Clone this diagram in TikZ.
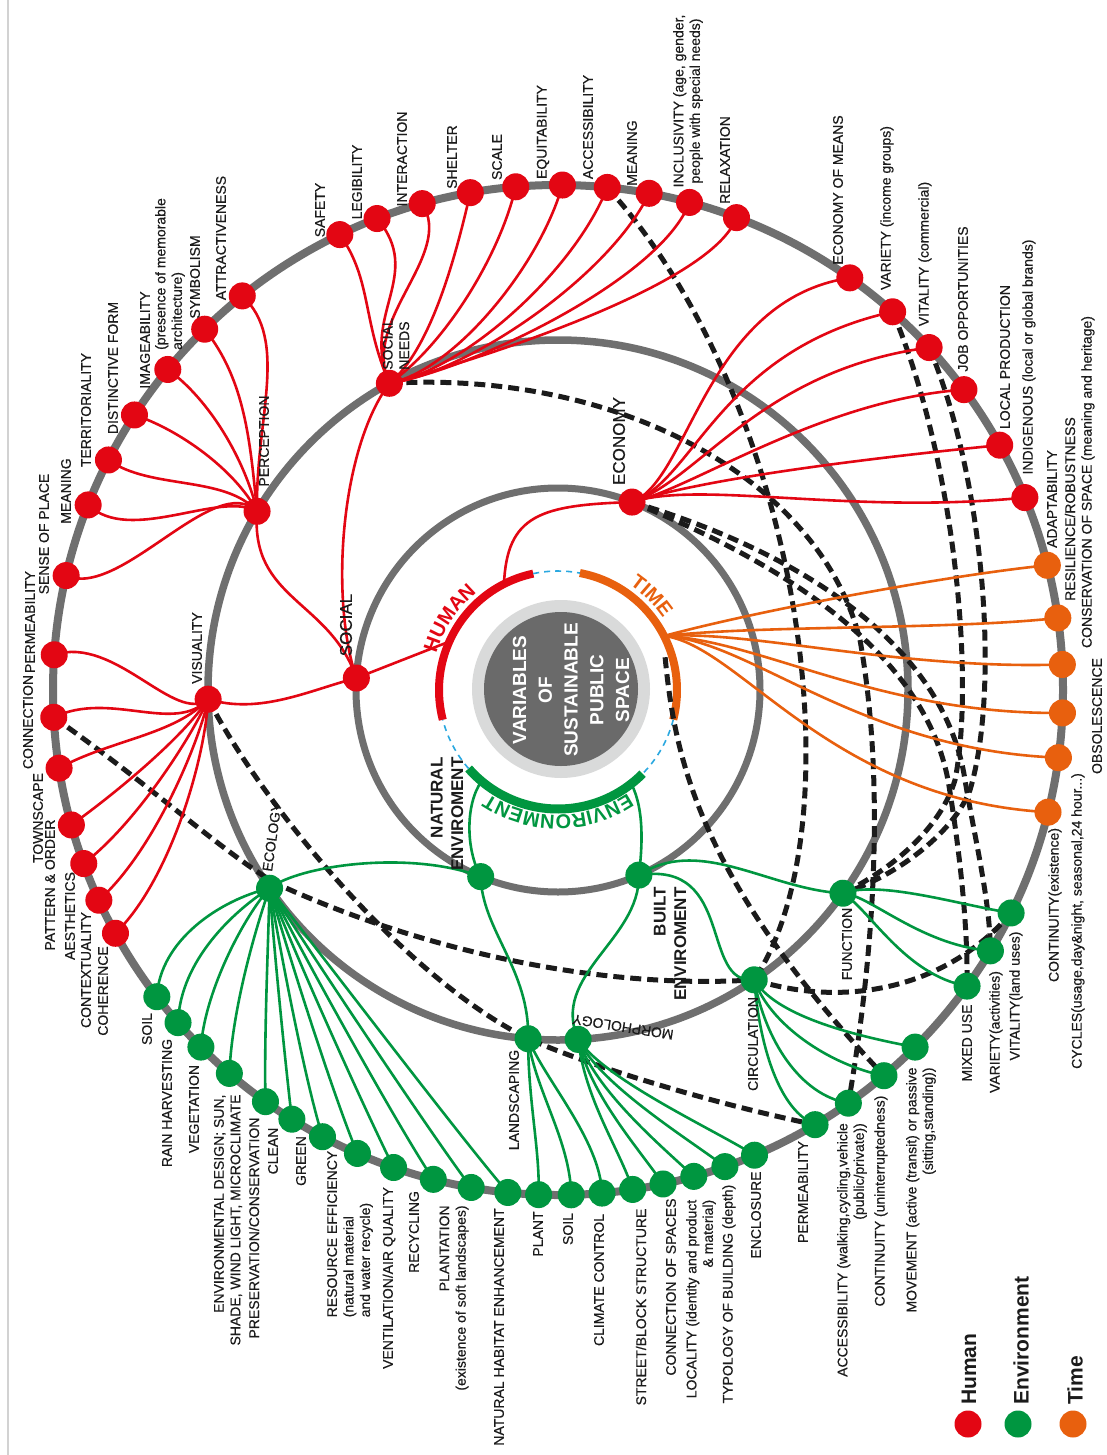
\documentclass[tikz,border=0pt]{standalone}
\usepackage{fontspec}
\setmainfont{Liberation Sans}
\newfontfamily\lblface{Liberation Sans}[FakeBold=0.45]
\usetikzlibrary{calc,decorations.text}

\definecolor{hred}{HTML}{E30613}
\definecolor{egreen}{HTML}{009640}
\definecolor{torange}{HTML}{E8600E}
\definecolor{ringgray}{HTML}{6F6F6F}
\definecolor{coregray}{HTML}{6A6A6A}
\definecolor{halo}{HTML}{D9DADA}
\definecolor{gapblue}{HTML}{2AA8E0}
\definecolor{ink}{HTML}{1B1B1B}
\definecolor{pageedge}{HTML}{D2D2D2}

\pgfdeclarelayer{paper}
\pgfdeclarelayer{rings}
\pgfdeclarelayer{dashes}
\pgfdeclarelayer{links}
\pgfsetlayers{paper,rings,dashes,links,main}

\newcommand\lblfont{\lblface\fontsize{14}{16.5}\selectfont}
\newcommand\hubfont{\lblface\fontsize{17}{20}\selectfont}
\newcommand\envfont{\fontsize{17}{20.5}\selectfont\bfseries}
\newcommand\arcfont{\fontsize{20}{24}\selectfont\bfseries}
\newcommand\corefont{\fontsize{19}{25.75}\selectfont\bfseries}
\newcommand\keyfont{\fontsize{21}{24}\selectfont\bfseries}

\tikzset{
  dotR/.style={circle, fill=hred, draw=none, inner sep=0pt, minimum size=27pt},
  dotG/.style={circle, fill=egreen, draw=none, inner sep=0pt, minimum size=27pt},
  dotO/.style={circle, fill=torange, draw=none, inner sep=0pt, minimum size=27pt},
  lbl/.style={rotate=90, font=\lblfont, text=ink, inner sep=0pt},
  hublbl/.style={rotate=90, font=\hubfont, text=ink, inner sep=0pt},
  envlbl/.style={rotate=90, font=\envfont, text=ink, inner sep=0pt},
  keylbl/.style={rotate=90, font=\keyfont, text=ink, inner sep=0pt, anchor=west},
  ring/.style={draw=ringgray, line width=8pt},
  redlink/.style={draw=hred, line width=2.6pt},
  greenlink/.style={draw=egreen, line width=2.6pt},
  orangelink/.style={draw=torange, line width=2.6pt},
  tie/.style={draw=ink, line width=5pt, dash pattern=on 11pt off 6pt},
  gap/.style={draw=gapblue, line width=1.6pt, dash pattern=on 6pt off 5pt},
}

\begin{document}
\begin{tikzpicture}[x=1pt, y=-1pt]
\useasboundingbox (0,0) rectangle (1107,1455);
\begin{pgfonlayer}{paper}
\fill[white] (0,0) rectangle (1107,1455);
\draw[pageedge, line width=2pt] (8,0) -- (8,1455);
\end{pgfonlayer}

\coordinate (ctr) at (558,690);
\coordinate (core) at (561,689);

% ---------- dots on the three rings ----------
\begin{scope}[shift={(558,690)}]
% outer ring: human
\node[dotR] (coherence) at (151.2:505) {};
\node[dotR] (contextuality) at (155.4:505) {};
\node[dotR] (aesthetics) at (159.9:505) {};
\node[dotR] (pattern) at (164.5:505) {};
\node[dotR] (townscape) at (171.1:505) {};
\node[dotR] (connection) at (176.9:505) {};
\node[dotR] (permeabilityH) at (184.0:505) {};
\node[dotR] (senseplace) at (193.1:505) {};
\node[dotR] (meaningP) at (201.5:505) {};
\node[dotR] (territoriality) at (207.1:505) {};
\node[dotR] (distinctive) at (213.0:505) {};
\node[dotR] (imageability) at (219.4:505) {};
\node[dotR] (symbolism) at (225.6:505) {};
\node[dotR] (attractiveness) at (231.3:505) {};
\node[dotR] (safety) at (244.4:505) {};
\node[dotR] (legibility) at (249.0:505) {};
\node[dotR] (interaction) at (254.4:505) {};
\node[dotR] (shelter) at (260.0:505) {};
\node[dotR] (scaleH) at (265.2:505) {};
\node[dotR] (equitability) at (270.5:505) {};
\node[dotR] (accessH) at (275.6:505) {};
\node[dotR] (meaningS) at (280.4:505) {};
\node[dotR] (inclusivity) at (285.1:505) {};
\node[dotR] (relaxation) at (290.7:505) {};
\node[dotR] (econmeans) at (305.3:505) {};
\node[dotR] (varietyI) at (311.5:505) {};
\node[dotR] (vitalityC) at (317.3:505) {};
\node[dotR] (jobs) at (323.5:505) {};
\node[dotR] (localprod) at (331.0:505) {};
\node[dotR] (indigenous) at (337.6:505) {};
% outer ring: time
\node[dotO] (adapt) at (345.7:505) {};
\node[dotO] (resil) at (351.8:505) {};
\node[dotO] (conserv) at (357.1:505) {};
\node[dotO] (obsol) at (2.6:505) {};
\node[dotO] (cycles) at (7.7:505) {};
\node[dotO] (contE) at (14.0:505) {};
% outer ring: environment
\node[dotG] (vitalityL) at (26.2:505) {};
\node[dotG] (varietyA) at (31.1:505) {};
\node[dotG] (mixeduse) at (35.9:505) {};
\node[dotG] (movement) at (45.0:505) {};
\node[dotG] (contU) at (49.8:505) {};
\node[dotG] (accessE) at (54.9:505) {};
\node[dotG] (permeabilityE) at (59.4:505) {};
\node[dotG] (enclosure) at (67.1:505) {};
\node[dotG] (typology) at (70.7:505) {};
\node[dotG] (locality) at (74.4:505) {};
\node[dotG] (connspaces) at (78.0:505) {};
\node[dotG] (street) at (81.5:505) {};
\node[dotG] (climate) at (85.0:505) {};
\node[dotG] (soilL) at (88.5:505) {};
\node[dotG] (plant) at (92.2:505) {};
\node[dotG] (habitat) at (95.7:505) {};
\node[dotG] (plantation) at (99.9:505) {};
\node[dotG] (recycling) at (104.3:505) {};
\node[dotG] (ventilation) at (109.0:505) {};
\node[dotG] (resource) at (113.4:505) {};
\node[dotG] (greenE) at (117.8:505) {};
\node[dotG] (clean) at (121.8:505) {};
\node[dotG] (preservation) at (125.4:505) {};
\node[dotG] (envdesign) at (130.6:505) {};
\node[dotG] (vegetation) at (135.0:505) {};
\node[dotG] (rain) at (138.8:505) {};
\node[dotG] (soilE) at (142.6:505) {};
% middle ring
\node[dotR] (socneeds) at (241.2:350) {};
\node[dotR] (perception) at (210.7:350) {};
\node[dotR] (visuality) at (178.5:350) {};
\node[dotG] (ecology) at (145.5:350) {};
\node[dotG] (landscaping) at (94.9:350) {};
\node[dotG] (morphology) at (86.7:350) {};
\node[dotG] (circulation) at (55.9:350) {};
\node[dotG] (functionE) at (35.5:350) {};
% inner ring
\node[dotR] (social) at (183.4:202) {};
\node[dotR] (economy) at (291.5:202) {};
\node[dotG] (natenv) at (112.5:202) {};
\node[dotG] (builtenv) at (66.4:202) {};
% points on the coloured core ring
\coordinate (humanS) at (204:119);
\coordinate (humanE) at (243:119);
\coordinate (timeF) at (333:119);
\coordinate (timeD) at (343:112);
\coordinate (envN) at (130:119);
\coordinate (envB) at (52:119);
\end{scope}

% bends of the long dashed ties
\coordinate (bendSN) at (860,640);
\coordinate (bendMU) at (948,780);
\coordinate (bendVA) at (965,780);
\coordinate (bendVI) at (955,780);
\coordinate (bendVC) at (970,790);
\coordinate (bendCO) at (275,883);

% ---------- rings and core ----------
\begin{pgfonlayer}{rings}
\draw[ring] (ctr) circle[radius=505];
\draw[ring, line width=7.5pt] (ctr) circle[radius=350];
\draw[ring, line width=7pt] (ctr) circle[radius=202];
\fill[halo] (core) circle[radius=89];
\fill[coregray] (core) circle[radius=77];
\draw[hred, line width=8pt] ($(ctr)+(165.5:119)$) arc[start angle=165.5, end angle=258, radius=119];
\draw[torange, line width=8pt] ($(ctr)+(280.6:119)$) arc[start angle=280.6, end angle=374.4, radius=119];
\draw[egreen, line width=9pt] ($(ctr)+(44.7:119)$) arc[start angle=44.7, end angle=138.7, radius=119];
\draw[gap] ($(ctr)+(14.4:119)$) arc[start angle=14.4, end angle=44.7, radius=119];
\draw[gap] ($(ctr)+(138.7:119)$) arc[start angle=138.7, end angle=165.5, radius=119];
\draw[gap] ($(ctr)+(258:119)$) arc[start angle=258, end angle=280.6, radius=119];
\end{pgfonlayer}

% ---------- dashed ties between the groups ----------
\begin{pgfonlayer}{dashes}
\draw[tie] (accessH.center) .. controls (800,400) and (860,820) .. (circulation.center);
\draw[tie] (socneeds.center) .. controls (620,370) and (820,480) .. (bendSN) .. controls (885,780) and (875,950) .. (accessE.center);
\draw[tie] (economy.center) .. controls (800,570) and (925,660) .. (bendMU) .. controls (958,840) and (968,920) .. (mixeduse.center);
\draw[tie] (economy.center) .. controls (810,555) and (945,650) .. (bendVA) .. controls (975,840) and (990,900) .. (varietyA.center);
\draw[tie] (varietyI.center) .. controls (955,460) and (975,680) .. (bendVI) .. controls (940,830) and (890,870) .. (functionE.center);
\draw[tie] (vitalityC.center) .. controls (985,480) and (1000,690) .. (bendVC) .. controls (955,830) and (900,875) .. (functionE.center);
\draw[tie] (timeD) .. controls (675,760) and (700,880) .. (contU.center);
\draw[tie] (circulation.center) .. controls (850,1010) and (950,985) .. (vitalityL.center);
\draw[tie] (connection.center) .. controls (150,785) and (220,850) .. (bendCO) .. controls (420,950) and (600,990) .. (circulation.center);
\draw[tie] (visuality.center) .. controls (260,800) and (400,975) .. (landscaping.center) .. controls (600,1070) and (720,1105) .. (permeabilityE.center);
\end{pgfonlayer}

% ---------- coloured links ----------
\begin{pgfonlayer}{links}
% human core
\draw[redlink] (social.center) -- (humanS);
\draw[redlink] (humanE) .. controls (507,515) and (540,505) .. (economy.center);
\draw[redlink] (socneeds.center) .. controls (340,450) and (330,600) .. (social.center);
\draw[redlink] (perception.center) .. controls (250,600) and (330,600) .. (social.center);
\draw[redlink] (visuality.center) .. controls (260,715) and (310,690) .. (social.center);
% social needs
\draw[redlink] (socneeds.center) .. controls (362,320) and (372,280) .. (safety.center);
\draw[redlink] (socneeds.center) .. controls (360,315) and (425,275) .. (legibility.center);
\draw[redlink] (socneeds.center) .. controls (360,320) and (455,255) .. (interaction.center);
\draw[redlink] (socneeds.center) .. controls (430,350) and (455,260) .. (shelter.center);
\draw[redlink] (socneeds.center) .. controls (445,345) and (500,255) .. (scaleH.center);
\draw[redlink] (socneeds.center) .. controls (455,370) and (540,265) .. (equitability.center);
\draw[redlink] (socneeds.center) .. controls (465,370) and (575,270) .. (accessH.center);
\draw[redlink] (socneeds.center) .. controls (470,372) and (610,275) .. (meaningS.center);
\draw[redlink] (socneeds.center) .. controls (470,370) and (660,280) .. (inclusivity.center);
\draw[redlink] (socneeds.center) .. controls (460,365) and (711,288) .. (relaxation.center);
% perception
\draw[redlink] (perception.center) .. controls (255,420) and (290,340) .. (attractiveness.center);
\draw[redlink] (perception.center) .. controls (250,440) and (245,380) .. (symbolism.center);
\draw[redlink] (perception.center) .. controls (245,460) and (210,400) .. (imageability.center);
\draw[redlink] (perception.center) .. controls (235,470) and (180,430) .. (distinctive.center);
\draw[redlink] (perception.center) .. controls (225,475) and (150,490) .. (territoriality.center);
\draw[redlink] (perception.center) .. controls (220,490) and (130,545) .. (meaningP.center);
\draw[redlink] (perception.center) .. controls (215,470) and (120,600) .. (senseplace.center);
% visuality
\draw[redlink] (visuality.center) .. controls (175,725) and (115,635) .. (permeabilityH.center);
\draw[redlink] (visuality.center) .. controls (175,735) and (110,690) .. (connection.center);
\draw[redlink] (visuality.center) .. controls (175,735) and (110,740) .. (townscape.center);
\draw[redlink] (visuality.center) .. controls (185,735) and (120,790) .. (pattern.center);
\draw[redlink] (visuality.center) .. controls (195,730) and (140,820) .. (aesthetics.center);
\draw[redlink] (visuality.center) .. controls (200,740) and (155,850) .. (contextuality.center);
\draw[redlink] (visuality.center) .. controls (205,760) and (170,880) .. (coherence.center);
% economy
\draw[redlink] (economy.center) .. controls (690,480) and (705,300) .. (econmeans.center);
\draw[redlink] (economy.center) .. controls (695,480) and (720,350) .. (varietyI.center);
\draw[redlink] (economy.center) .. controls (700,480) and (760,370) .. (vitalityC.center);
\draw[redlink] (economy.center) .. controls (690,490) and (820,400) .. (jobs.center);
\draw[redlink] (economy.center) .. controls (700,480) and (850,460) .. (localprod.center);
\draw[redlink] (economy.center) .. controls (700,480) and (850,515) .. (indigenous.center);
% time
\draw[orangelink] (timeF) .. controls (760,610) and (950,575) .. (adapt.center);
\draw[orangelink] (timeF) .. controls (760,625) and (950,630) .. (resil.center);
\draw[orangelink] (timeF) .. controls (750,630) and (900,670) .. (conserv.center);
\draw[orangelink] (timeF) .. controls (760,640) and (880,715) .. (obsol.center);
\draw[orangelink] (timeF) .. controls (750,640) and (860,750) .. (cycles.center);
\draw[orangelink] (timeF) .. controls (740,645) and (830,800) .. (contE.center);
% environment core
\draw[greenlink] (envN) .. controls (465,805) and (466,850) .. (natenv.center);
\draw[greenlink] (envB) .. controls (645,810) and (642,850) .. (builtenv.center);
\draw[greenlink] (ecology.center) .. controls (300,865) and (410,850) .. (natenv.center);
\draw[greenlink] (natenv.center) .. controls (482,930) and (530,970) .. (landscaping.center);
\draw[greenlink] (builtenv.center) .. controls (640,940) and (550,975) .. (morphology.center);
\draw[greenlink] (builtenv.center) .. controls (700,835) and (770,890) .. (functionE.center);
\draw[greenlink] (builtenv.center) .. controls (735,860) and (700,985) .. (circulation.center);
% ecology
\draw[greenlink] (ecology.center) .. controls (220,900) and (160,940) .. (soilE.center);
\draw[greenlink] (ecology.center) .. controls (235,910) and (180,960) .. (rain.center);
\draw[greenlink] (ecology.center) .. controls (245,915) and (205,990) .. (vegetation.center);
\draw[greenlink] (ecology.center) .. controls (255,930) and (232,1010) .. (envdesign.center);
\draw[greenlink] (ecology.center) .. controls (268,950) and (264,1040) .. (preservation.center);
\draw[greenlink] (ecology.center) .. controls (275,960) and (285,1060) .. (clean.center);
\draw[greenlink] (ecology.center) .. controls (282,960) and (305,1080) .. (greenE.center);
\draw[greenlink] (ecology.center) .. controls (290,960) and (335,1100) .. (resource.center);
\draw[greenlink] (ecology.center) .. controls (295,955) and (365,1110) .. (ventilation.center);
\draw[greenlink] (ecology.center) .. controls (300,950) and (400,1130) .. (recycling.center);
\draw[greenlink] (ecology.center) .. controls (305,945) and (435,1140) .. (plantation.center);
\draw[greenlink] (ecology.center) .. controls (310,940) and (470,1150) .. (habitat.center);
% landscaping
\draw[greenlink] (landscaping.center) .. controls (528,1100) and (540,1150) .. (plant.center);
\draw[greenlink] (landscaping.center) .. controls (535,1090) and (570,1140) .. (soilL.center);
\draw[greenlink] (landscaping.center) .. controls (545,1080) and (600,1140) .. (climate.center);
% morphology
\draw[greenlink] (morphology.center) .. controls (585,1100) and (620,1150) .. (street.center);
\draw[greenlink] (morphology.center) .. controls (590,1095) and (640,1150) .. (connspaces.center);
\draw[greenlink] (morphology.center) .. controls (595,1090) and (660,1145) .. (locality.center);
\draw[greenlink] (morphology.center) .. controls (600,1085) and (690,1140) .. (typology.center);
\draw[greenlink] (morphology.center) .. controls (605,1080) and (715,1130) .. (enclosure.center);
% circulation
\draw[greenlink] (circulation.center) .. controls (775,1015) and (850,1035) .. (movement.center);
\draw[greenlink] (circulation.center) .. controls (770,1025) and (830,1065) .. (contU.center);
\draw[greenlink] (circulation.center) .. controls (765,1040) and (800,1095) .. (accessE.center);
\draw[greenlink] (circulation.center) .. controls (760,1050) and (780,1110) .. (permeabilityE.center);
% function
\draw[greenlink] (functionE.center) .. controls (880,880) and (960,905) .. (vitalityL.center);
\draw[greenlink] (functionE.center) .. controls (870,895) and (920,945) .. (varietyA.center);
\draw[greenlink] (functionE.center) .. controls (870,910) and (905,975) .. (mixeduse.center);
\end{pgfonlayer}

% ---------- lettering on the core ----------
\node[rotate=90, font=\corefont, text=white, align=center, inner sep=0pt] (coretext) at (571,690)
  {VARIABLES\\OF\\SUSTAINABLE\\PUBLIC\\SPACE};
\path[decorate, decoration={text along path, text={|\arcfont|HUMAN}, text align=center, text color=hred}]
  ($(ctr)+(188:127)$) arc[start angle=188, end angle=239, radius=127];
\path[decorate, decoration={text along path, text={|\arcfont|TIME}, text align=center, text color=torange}]
  ($(ctr)+(292:127)$) arc[start angle=292, end angle=338, radius=127];
\path[decorate, decoration={text along path, text={|\arcfont|ENVIRONMENT}, text align=center, text color=egreen}]
  ($(ctr)+(35:125)$) arc[start angle=35, end angle=145, radius=125];

% ---------- group labels ----------
\node[lbl, align=left] (l-socneeds) at (396,344) {SOCIAL\\NEEDS};
\node[lbl] (l-perception) at (264,441) {PERCEPTION};
\node[lbl] (l-visuality) at (197,648) {VISUALITY};
\node[lbl, rotate=-8] (l-ecology) at (272,837) {ECOLOGY};
\node[hublbl] (l-social) at (346,625) {SOCIAL};
\node[hublbl] (l-economy) at (619,441) {ECONOMY};
\node[envlbl, align=right] (l-natenv) at (447,814) {NATURAL\\ENVIROMENT};
\node[envlbl, align=right] (l-builtenv) at (670,944) {BUILT\\ENVIROMENT};
\node[lbl] (l-landscaping) at (514,1100) {LANDSCAPING};
\node[lbl, rotate=81] (l-morphology) at (623,1027) {MORPHOLOGY};
\node[lbl] (l-circulation) at (753,1044) {CIRCULATION};
\node[lbl] (l-function) at (847,944) {FUNCTION};

% ---------- outer labels: human ----------
\node[lbl] (l-attr) at (221,238) {ATTRACTIVENESS};
\node[lbl] (l-symb) at (195,277) {SYMBOLISM};
\node[lbl] (l-imag) at (145,340) {IMAGEABILITY};
\node[lbl, align=left] (l-imag2) at (170,274) {(presence of memorable\\architecture)};
\node[lbl] (l-dist) at (113,368) {DISTINCTIVE FORM};
\node[lbl] (l-terr) at (86,410) {TERRITORIALITY};
\node[lbl] (l-mean1) at (66,491) {MEANING};
\node[lbl] (l-sense) at (44,534) {SENSE OF PLACE};
\node[lbl] (l-perm1) at (30,622) {PERMEABILITY};
\node[lbl] (l-conn) at (28,722) {CONNECTION};
\node[lbl] (l-town) at (38,818) {TOWNSCAPE};
\node[lbl] (l-patt) at (50,885) {PATTERN \& ORDER};
\node[lbl] (l-aest) at (70,916) {AESTHETICS};
\node[lbl] (l-ctx) at (86,970) {CONTEXTUALITY};
\node[lbl] (l-coh) at (103,991) {COHERENCE};
\node[lbl] (l-safety) at (320,210) {SAFETY};
\node[lbl] (l-leg) at (357,182) {LEGIBILITY};
\node[lbl] (l-inter) at (402,159) {INTERACTION};
\node[lbl] (l-shelter) at (452,157) {SHELTER};
\node[lbl] (l-scale) at (497,157) {SCALE};
\node[lbl] (l-equi) at (543,132) {EQUITABILITY};
\node[lbl] (l-acc1) at (588,127) {ACCESSIBILITY};
\node[lbl] (l-mean2) at (632,153) {MEANING};
\node[lbl, align=center] (l-incl) at (688,101) {INCLUSIVITY (age, gender,\\people with special needs)};
\node[lbl] (l-relax) at (725,160) {RELAXATION};
\node[lbl] (l-econ) at (838,190) {ECONOMY OF MEANS};
\node[lbl] (l-varI) at (887,208) {VARIETY (income groups)};
\node[lbl] (l-vitC) at (925,254) {VITALITY (commercial)};
\node[lbl] (l-jobs) at (963,299) {JOB OPPORTUNITIES};
\node[lbl] (l-local) at (1005,357) {LOCAL PRODUCTION};
\node[lbl] (l-indig) at (1029,357) {INDIGENOUS (local or global brands)};

% ---------- outer labels: time ----------
\node[lbl] (l-adapt) at (1052,499) {ADAPTABILITY};
\node[lbl] (l-resil) at (1070,509) {RESILIENCE/ROBUSTNESS};
\node[lbl] (l-cons) at (1088,482) {CONSERVATION OF SPACE (meaning and heritage)};
\node[lbl] (l-obs) at (1097,716) {OBSOLESCENCE};
\node[lbl] (l-cyc) at (1078,921) {CYCLES(usage,day\&night, seasonal,24 hour...)};
\node[lbl] (l-contE) at (1055,905) {CONTINUITY(existence)};

% ---------- outer labels: environment ----------
\node[lbl] (l-vitL) at (1016,996) {VITALITY(land uses)};
\node[lbl] (l-varA) at (996,1032) {VARIETY(activities)};
\node[lbl] (l-mixed) at (967,1043) {MIXED USE};
\node[lbl, align=right] (l-move) at (921,1190) {MOVEMENT (active (transit) or passive\\(sitting,standing))};
\node[lbl] (l-contU) at (881,1201) {CONTINUITY (uninterruptedness)};
\node[lbl, align=right] (l-acc2) at (852,1250) {ACCESSIBILITY (walking,cycling,vehicle\\(public/private))};
\node[lbl] (l-perm2) at (803,1192) {PERMEABILITY};
\node[lbl] (l-encl) at (756,1215) {ENCLOSURE};
\node[lbl] (l-typo) at (729,1294) {TYPOLOGY OF BUILDING (depth)};
\node[lbl, align=right] (l-loc) at (701,1299) {LOCALITY (identity and product\\\& material)};
\node[lbl] (l-connsp) at (671,1287) {CONNECTION OF SPACES};
\node[lbl] (l-street) at (641,1307) {STREET/BLOCK STRUCTURE};
\node[lbl] (l-climate) at (599,1280) {CLIMATE CONTROL};
\node[lbl] (l-soil2) at (568,1229) {SOIL};
\node[lbl] (l-plant) at (538,1234) {PLANT};
\node[lbl] (l-habitat) at (499,1327) {NATURAL HABITAT ENHANCEMENT};
\node[lbl, align=right] (l-plantation) at (454,1298) {PLANTATION\\(existence of soft landscapes)};
\node[lbl] (l-recyc) at (414,1232) {RECYCLING};
\node[lbl] (l-vent) at (389,1278) {VENTILATION/AIR QUALITY};
\node[lbl, align=left] (l-res) at (350,1234) {RESOURCE EFFICIENCY\\(natural material\\and water recycle)};
\node[lbl] (l-green) at (301,1161) {GREEN};
\node[lbl] (l-clean) at (273,1151) {CLEAN};
\node[lbl] (l-pres) at (254,1228) {PRESERVATION/CONSERVATION};
\node[lbl, align=right] (l-envd) at (228,1220) {ENVIRONMENTAL DESIGN; SUN,\\SHADE, WIND LIGHT, MICROCLIMATE};
\node[lbl] (l-veg) at (194,1109) {VEGETATION};
\node[lbl] (l-rain) at (167,1103) {RAIN HARVESTING};
\node[lbl] (l-soil1) at (147,1029) {SOIL};

% ---------- key ----------
\node[dotR] (keyH) at (968,1424) {};
\node[dotG] (keyE) at (1018,1424) {};
\node[dotO] (keyT) at (1073,1424) {};
\node[keylbl] (keyHt) at (969,1405) {Human};
\node[keylbl] (keyEt) at (1021,1405) {Environment};
\node[keylbl] (keyTt) at (1075,1405) {Time};
\end{tikzpicture}
\end{document}
